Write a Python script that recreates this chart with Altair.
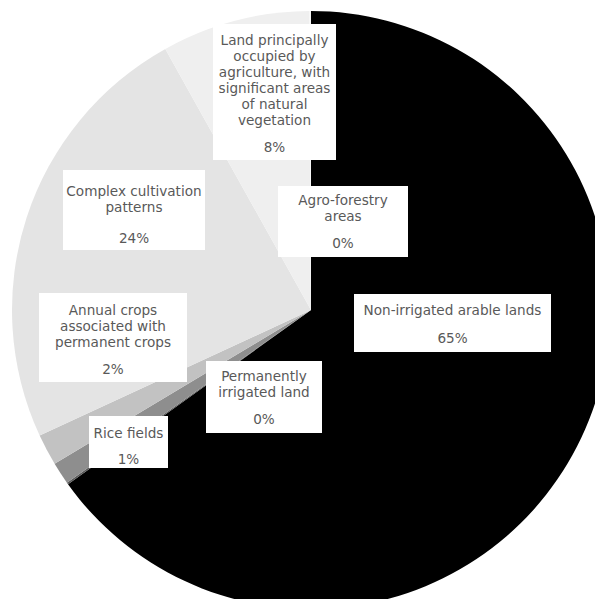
import altair as alt
import pandas as pd

# ---- chart values ----
categories = [
    "Non-irrigated arable lands",
    "Permanently irrigated land",
    "Rice fields",
    "Annual crops associated with permanent crops",
    "Complex cultivation patterns",
    "Land principally occupied by agriculture, with significant areas of natural vegetation",
    "Agro-forestry areas",
]
shares = [65.1, 0.1, 1.2, 1.7, 23.8, 8.0, 0.1]
slice_colors = ["#000000", "#5a5a5a", "#8e8e8e", "#c2c2c2", "#e4e4e4", "#efefef", "#f6f6f6"]

label_lines = [
    ["Non-irrigated arable lands"],
    ["Permanently", "irrigated land"],
    ["Rice fields"],
    ["Annual crops", "associated with", "permanent crops"],
    ["Complex cultivation", "patterns"],
    ["Land principally", "occupied by", "agriculture, with", "significant areas", "of natural", "vegetation"],
    ["Agro-forestry", "areas"],
]

# ---- layout (page pixel frame) ----
W, H = 587, 591
ORIGIN = 8
CENTER = (311, 310)
RADIUS = 299
LINE_STEP = 16
# box x0, x1, y0, y1, first line y, value y
label_boxes = [
    (354, 551, 294, 352, 311, 339),
    (206, 322, 361, 433, 377, 420),
    (89, 168, 416, 468, 434, 460),
    (39, 187, 293, 382, 311, 370),
    (63, 205, 170, 250, 192, 239),
    (213, 336, 24, 160, 41, 148),
    (278, 408, 186, 257, 201, 244),
]

pie_df = pd.DataFrame({"category": categories, "share": shares, "idx": range(len(categories))})

box_rows, text_rows = [], []
for cat, share, lines, (x0, x1, y0, y1, ly, vy) in zip(categories, shares, label_lines, label_boxes):
    box_rows.append({"category": cat, "x0": x0, "x1": x1, "y0": y0, "y1": y1})
    cx = (x0 + x1) / 2
    for i, ln in enumerate(lines):
        text_rows.append({"tx": cx, "ty": ly + i * LINE_STEP, "t": ln})
    text_rows.append({"tx": cx, "ty": vy, "t": f"{round(share)}%"})

box_df = pd.DataFrame(box_rows)
text_df = pd.DataFrame(text_rows)

xs = alt.Scale(domain=[ORIGIN, ORIGIN + W])
ys = alt.Scale(domain=[ORIGIN, ORIGIN + H], reverse=True)

pie = alt.Chart(pie_df).mark_arc(outerRadius=RADIUS).encode(
    theta=alt.Theta("share:Q", stack=True),
    order=alt.Order("idx:Q"),
    color=alt.Color("category:N", scale=alt.Scale(domain=categories, range=slice_colors), legend=None),
    x=alt.datum(CENTER[0], scale=xs, axis=None),
    y=alt.datum(CENTER[1], scale=ys, axis=None),
)

boxes = alt.Chart(box_df).mark_rect(color="white").encode(
    x=alt.X("x0:Q", scale=xs, axis=None),
    x2="x1:Q",
    y=alt.Y("y0:Q", scale=ys, axis=None),
    y2="y1:Q",
)

texts = alt.Chart(text_df).mark_text(
    font="DejaVu Sans", fontSize=13.6, color="#595959", align="center", baseline="middle"
).encode(
    x=alt.X("tx:Q", scale=xs, axis=None),
    y=alt.Y("ty:Q", scale=ys, axis=None),
    text="t:N",
)

chart = alt.layer(pie, boxes, texts).properties(
    width=W, height=H, padding=0, autosize=alt.AutoSizeParams(type="none")
).configure_view(stroke=None)

chart.save("out.html", embed_options={"renderer": "svg", "actions": False})
